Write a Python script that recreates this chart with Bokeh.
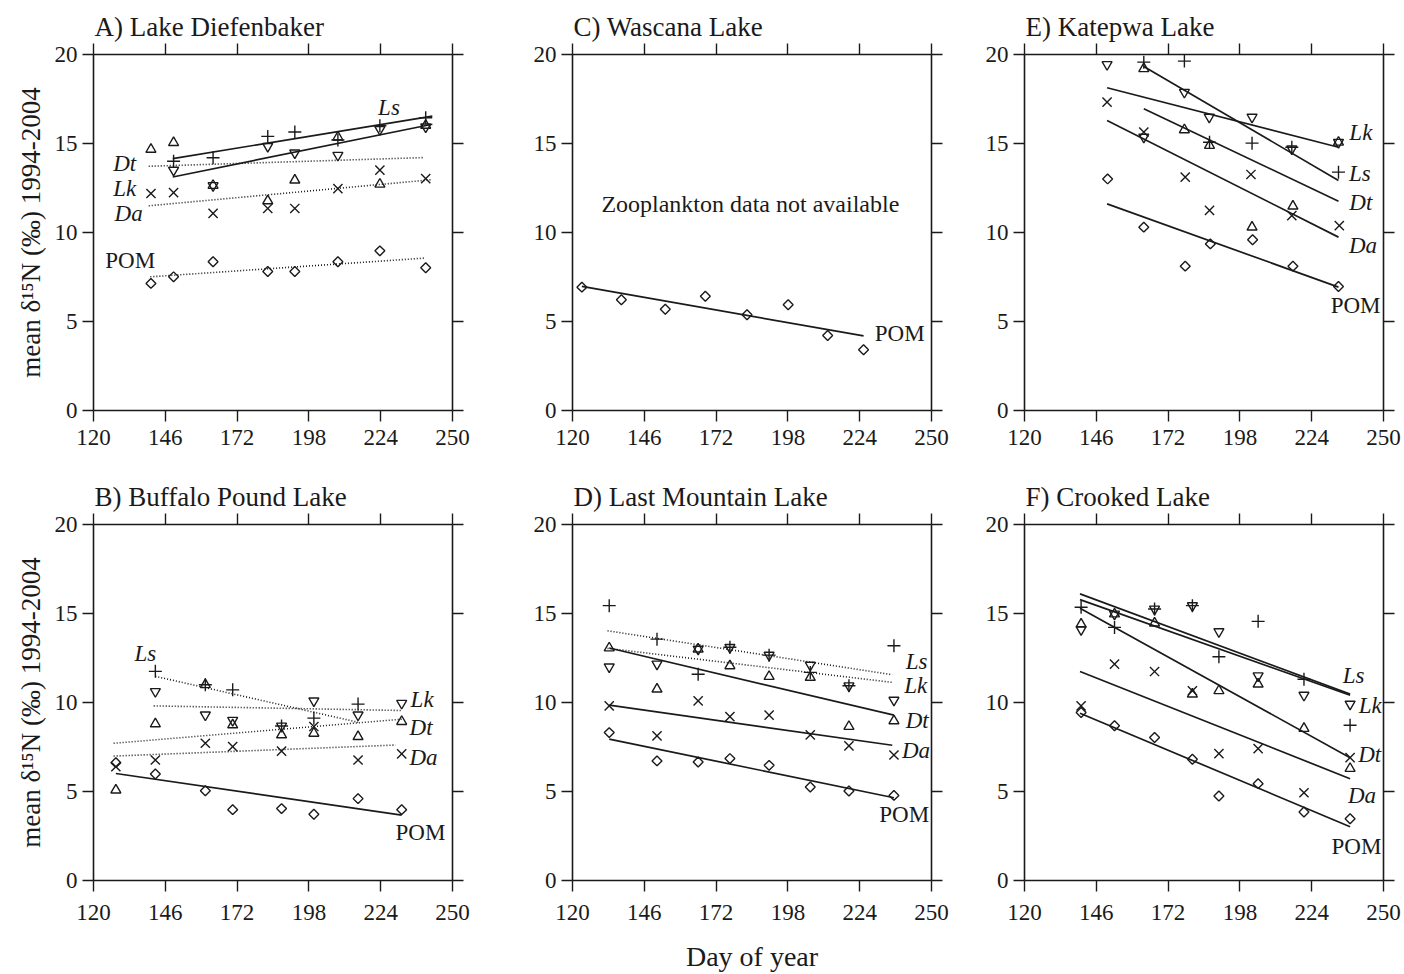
import numpy as np
from bokeh.plotting import figure
from bokeh.models import Range1d, LinearAxis, FixedTicker
from bokeh.layouts import row, column
from bokeh.embed import file_html
from bokeh.resources import INLINE
from bokeh.core.properties import value

FONT = "Liberation Serif"
INK = "#1a1a1a"

X_TICKS = [120, 146, 172, 198, 224, 250]
Y_TICKS = [0, 5, 10, 15, 20]
Y_LABEL = "mean δ¹⁵N (‰) 1994-2004"
X_LABEL = "Day of year"
TITLES = ["A) Lake Diefenbaker", "B) Buffalo Pound Lake", "C) Wascana Lake",
          "D) Last Mountain Lake", "E) Katepwa Lake", "F) Crooked Lake"]
NO_ZOO_NOTE = "Zooplankton data not available"

# ---------------- A) Lake Diefenbaker ----------------
A_DAY = [140.8, 149.0, 163.3, 183.1, 192.9, 208.5, 223.7, 240.3]
A_LS_DAY = [149.0, 163.3, 183.1, 192.9, 208.5, 223.7, 240.3]
A_LS = [14.0, 14.2, 15.4, 15.65, 15.2, 16.0, 16.45]
A_LK_DAY = [149.0, 163.3, 183.1, 192.9, 208.5, 223.7, 240.3]
A_LK = [13.5, 12.64, 14.84, 14.47, 14.34, 15.79, 15.93]
A_DT = [14.67, 15.05, 12.64, 11.78, 12.94, 15.36, 12.71, 16.02]
A_DA = [12.19, 12.24, 11.07, 11.35, 11.35, 12.47, 13.50, 13.03]
A_POM = [7.14, 7.51, 8.36, 7.81, 7.81, 8.36, 8.97, 8.02]
A_LS_FIT_DAY = [148.7, 242.7]
A_LS_FIT = [14.15, 16.54]
A_LK_FIT_DAY = [148.7, 242.7]
A_LK_FIT = [13.12, 16.08]
A_DT_FIT_DAY = [140.0, 239.7]
A_DT_FIT = [13.72, 14.21]
A_DA_FIT_DAY = [140.0, 242.7]
A_DA_FIT = [11.50, 12.97]
A_POM_FIT_DAY = [140.6, 239.7]
A_POM_FIT = [7.51, 8.56]

# ---------------- B) Buffalo Pound Lake ----------------
B_DAY = [128.1, 142.4, 160.5, 170.4, 188.1, 199.8, 215.8, 231.6]
B_LS_DAY = [142.4, 160.5, 170.4, 188.1, 199.8, 215.8]
B_LS = [11.75, 11.0, 10.71, 8.68, 9.12, 9.91]
B_LK_DAY = [142.4, 160.5, 170.4, 188.1, 199.8, 215.8, 231.6]
B_LK = [10.62, 9.30, 9.0, 8.68, 10.09, 9.30, 9.96]
B_DT = [5.08, 8.80, 11.0, 8.74, 8.18, 8.27, 8.08, 8.93]
B_DA = [6.39, 6.77, 7.71, 7.52, 7.27, 8.65, 6.77, 7.11]
B_POM = [6.62, 5.98, 5.04, 3.98, 4.04, 3.72, 4.60, 3.98]
B_LS_FIT_DAY = [142.4, 215.8]
B_LS_FIT = [11.47, 8.89]
B_LK_FIT_DAY = [141.8, 231.6]
B_LK_FIT = [9.81, 9.55]
B_DT_FIT_DAY = [127.3, 231.6]
B_DT_FIT = [7.71, 9.06]
B_DA_FIT_DAY = [127.3, 229.4]
B_DA_FIT = [6.99, 7.61]
B_POM_FIT_DAY = [128.1, 231.6]
B_POM_FIT = [6.01, 3.67]

# ---------------- C) Wascana Lake ----------------
C_DAY = [123.4, 137.7, 153.6, 168.1, 183.2, 198.1, 212.4, 225.4]
C_POM = [6.93, 6.22, 5.69, 6.42, 5.38, 5.94, 4.21, 3.41]
C_POM_FIT_DAY = [123.4, 225.4]
C_POM_FIT = [6.97, 4.19]

# ---------------- D) Last Mountain Lake ----------------
D_DAY = [133.3, 150.6, 165.5, 177.0, 191.2, 206.1, 220.1, 236.4]
D_LS = [15.44, 13.56, 11.59, 13.10, 12.66, 11.69, 10.94, 13.19]
D_LK = [12.0, 12.16, 13.0, 13.10, 12.66, 12.10, 10.94, 10.13]
D_DT = [13.06, 10.75, 13.0, 12.06, 11.46, 11.41, 8.65, 8.97]
D_DA = [9.81, 8.12, 10.09, 9.21, 9.29, 8.18, 7.56, 7.05]
D_POM = [8.31, 6.72, 6.66, 6.85, 6.47, 5.25, 5.03, 4.78]
D_LS_FIT_DAY = [132.7, 235.8]
D_LS_FIT = [14.03, 11.56]
D_LK_FIT_DAY = [132.7, 235.8]
D_LK_FIT = [13.04, 11.13]
D_DT_FIT_DAY = [133.3, 236.4]
D_DT_FIT = [13.06, 9.29]
D_DA_FIT_DAY = [133.3, 235.8]
D_DA_FIT = [9.85, 7.60]
D_POM_FIT_DAY = [133.3, 236.4]
D_POM_FIT = [7.94, 4.65]

# ---------------- E) Katepwa Lake ----------------
E_LK_DAY = [149.9, 163.2, 177.9, 186.9, 202.4, 216.8, 233.7]
E_LK = [19.44, 15.36, 17.88, 16.48, 16.48, 14.70, 15.07]
E_LS_DAY = [163.2, 177.9, 187.0, 202.4, 216.8, 233.7]
E_LS = [19.57, 19.63, 15.07, 15.02, 14.79, 13.39]
E_DT_DAY = [163.2, 177.9, 187.0, 202.4, 217.2, 233.7]
E_DT = [19.2, 15.77, 14.89, 10.30, 11.48, 15.07]
E_DA_DAY = [149.9, 163.2, 178.2, 187.0, 202.0, 216.8, 234.0]
E_DA = [17.32, 15.64, 13.11, 11.24, 13.26, 10.95, 10.39]
E_POM_DAY = [150.1, 163.2, 178.2, 187.3, 202.6, 217.2, 233.7]
E_POM = [13.01, 10.30, 8.11, 9.36, 9.59, 8.11, 6.97]
E_LK_FIT_DAY = [149.9, 233.7]
E_LK_FIT = [18.13, 14.79]
E_LS_FIT_DAY = [163.2, 233.7]
E_LS_FIT = [19.33, 12.92]
E_DT_FIT_DAY = [163.2, 233.7]
E_DT_FIT = [16.95, 11.76]
E_DA_FIT_DAY = [149.9, 233.7]
E_DA_FIT = [16.29, 9.74]
E_POM_FIT_DAY = [149.9, 233.7]
E_POM_FIT = [11.61, 6.93]

# ---------------- F) Crooked Lake ----------------
F_DAY = [140.5, 152.6, 167.1, 180.8, 190.4, 204.6, 221.2, 237.9]
F_LS = [15.35, 14.22, 15.25, 15.44, 12.57, 14.56, 11.31, 8.72]
F_LK = [14.1, 14.97, 15.25, 15.44, 13.98, 11.5, 10.41, 9.91]
F_DT = [14.4, 14.97, 14.46, 10.47, 10.66, 11.03, 8.54, 6.29]
F_DA = [9.81, 12.16, 11.74, 10.66, 7.13, 7.41, 4.93, 6.90]
F_POM = [9.44, 8.69, 8.03, 6.81, 4.75, 5.44, 3.85, 3.47]
F_FIT_DAY = [140.1, 237.9]
F_LS_FIT = [16.10, 10.47]
F_LK_FIT = [15.78, 10.41]
F_DT_FIT = [15.29, 6.90]
F_DA_FIT = [11.74, 5.72]
F_POM_FIT = [9.40, 3.02]

# ---------------- styling ----------------
MARKER = {
    "Ls": dict(marker="cross", size=13, angle=0.0),
    "Lk": dict(marker="inverted_triangle", size=10, angle=0.0),
    "Dt": dict(marker="triangle", size=10, angle=0.0),
    "Da": dict(marker="x", size=13, angle=0.0),
    "POM": dict(marker="square", size=7, angle=np.pi / 4),
}
FRAME_W, FRAME_H = 359, 356


def style_axis(ax, show_labels, standoff=4):
    ax.axis_line_color = INK
    ax.axis_line_width = 1.6
    ax.major_tick_line_color = INK
    ax.major_tick_line_width = 1.4
    ax.major_tick_out = 11
    ax.major_tick_in = 0
    ax.minor_tick_line_color = None
    ax.major_label_text_font = FONT
    if show_labels:
        ax.major_label_text_color = INK
        ax.major_label_text_font_size = "23px"
        ax.major_label_standoff = standoff
    else:
        ax.major_label_text_color = None
        ax.major_label_text_font_size = "0px"
        ax.major_label_standoff = 0


def make_panel(title, bl, br, bt, bb, x_standoff, y_label=None, x_label=None):
    p = figure(width=bl + FRAME_W + br, height=bt + FRAME_H + bb,
               x_range=Range1d(120, 250), y_range=Range1d(0, 20),
               min_border_left=bl, min_border_right=br,
               min_border_top=bt, min_border_bottom=bb,
               output_backend="svg", toolbar_location=None, title=title)
    p.grid.visible = False
    p.outline_line_color = None
    p.background_fill_color = "white"
    p.border_fill_color = "white"
    p.title.text_font = FONT
    p.title.text_font_size = "27px"
    p.title.text_font_style = "normal"
    p.title.text_color = INK
    p.title.align = "left"
    p.title.offset = 1
    p.title.standoff = 4

    bottom = p.below[0]
    left = p.left[0]
    bottom.ticker = FixedTicker(ticks=X_TICKS)
    left.ticker = FixedTicker(ticks=Y_TICKS)
    style_axis(bottom, True, x_standoff)
    style_axis(left, True, 5)

    if y_label:
        left.axis_label = y_label
        left.axis_label_text_font = FONT
        left.axis_label_text_font_size = "27px"
        left.axis_label_text_font_style = "normal"
        left.axis_label_text_color = INK
        left.axis_label_standoff = 6
    if x_label:
        bottom.axis_label = x_label
        bottom.axis_label_text_font = FONT
        bottom.axis_label_text_font_size = "28px"
        bottom.axis_label_text_font_style = "normal"
        bottom.axis_label_text_color = INK
        bottom.axis_label_standoff = 18

    top = LinearAxis(ticker=FixedTicker(ticks=X_TICKS))
    right = LinearAxis(ticker=FixedTicker(ticks=Y_TICKS))
    style_axis(top, False)
    style_axis(right, False)
    p.add_layout(top, "above")
    p.add_layout(right, "right")
    return p


def add_series(p, key, days, vals, fit_days=None, fit_vals=None, dotted=False):
    if fit_days is not None:
        if dotted:
            p.line(fit_days, fit_vals, line_color=INK, line_width=1.6, line_dash="1 2")
        else:
            p.line(fit_days, fit_vals, line_color=INK, line_width=1.7)
    st = MARKER[key]
    p.scatter(days, vals, marker=st["marker"], size=st["size"], angle=st["angle"],
              fill_color=None, line_color=INK, line_width=1.4)


def add_labels(p, items):
    for txt, x, y, italic in items:
        p.text(x=[x], y=[y], text=[txt], text_font=value(FONT),
               text_font_size="23px", text_font_style="italic" if italic else "normal",
               text_color=INK, text_align="center", text_baseline="middle")


# layout borders (px)
TOP_T, TOP_B = 54, 60
BOT_T, BOT_B = 54, 94
C1L, C1R = 93, 59
C2L, C2R = 61, 45
C3L, C3R = 48, 20

# A
pA = make_panel(TITLES[0], C1L, C1R, TOP_T, TOP_B, 8, y_label=Y_LABEL)
add_series(pA, "POM", A_DAY, A_POM, A_POM_FIT_DAY, A_POM_FIT, dotted=True)
add_series(pA, "Da", A_DAY, A_DA, A_DA_FIT_DAY, A_DA_FIT, dotted=True)
add_series(pA, "Dt", A_DAY, A_DT, A_DT_FIT_DAY, A_DT_FIT, dotted=True)
add_series(pA, "Lk", A_LK_DAY, A_LK, A_LK_FIT_DAY, A_LK_FIT)
add_series(pA, "Ls", A_LS_DAY, A_LS, A_LS_FIT_DAY, A_LS_FIT)
add_labels(pA, [("Ls", 227.0, 17.0, True), ("Dt", 131.3, 13.9, True),
                ("Lk", 131.3, 12.5, True), ("Da", 132.7, 11.05, True),
                ("POM", 133.3, 8.4, False)])

# C
pC = make_panel(TITLES[2], C2L, C2R, TOP_T, TOP_B, 8)
add_series(pC, "POM", C_DAY, C_POM, C_POM_FIT_DAY, C_POM_FIT)
add_labels(pC, [("POM", 238.5, 4.34, False)])
pC.text(x=[184.4], y=[11.6], text=[NO_ZOO_NOTE], text_font=value(FONT),
        text_font_size="24px", text_color=INK, text_align="center", text_baseline="middle")

# E
pE = make_panel(TITLES[4], C3L, C3R, TOP_T, TOP_B, 8)
add_series(pE, "POM", E_POM_DAY, E_POM, E_POM_FIT_DAY, E_POM_FIT)
add_series(pE, "Da", E_DA_DAY, E_DA, E_DA_FIT_DAY, E_DA_FIT)
add_series(pE, "Dt", E_DT_DAY, E_DT, E_DT_FIT_DAY, E_DT_FIT)
add_series(pE, "Ls", E_LS_DAY, E_LS, E_LS_FIT_DAY, E_LS_FIT)
add_series(pE, "Lk", E_LK_DAY, E_LK, E_LK_FIT_DAY, E_LK_FIT)
add_labels(pE, [("Lk", 241.8, 15.64, True), ("Ls", 241.4, 13.3, True),
                ("Dt", 241.8, 11.7, True), ("Da", 242.6, 9.27, True),
                ("POM", 239.9, 5.9, False)])

# B
pB = make_panel(TITLES[1], C1L, C1R, BOT_T, BOT_B, 13, y_label=Y_LABEL)
add_series(pB, "POM", B_DAY, B_POM, B_POM_FIT_DAY, B_POM_FIT)
add_series(pB, "Da", B_DAY, B_DA, B_DA_FIT_DAY, B_DA_FIT, dotted=True)
add_series(pB, "Dt", B_DAY, B_DT, B_DT_FIT_DAY, B_DT_FIT, dotted=True)
add_series(pB, "Lk", B_LK_DAY, B_LK, B_LK_FIT_DAY, B_LK_FIT, dotted=True)
add_series(pB, "Ls", B_LS_DAY, B_LS, B_LS_FIT_DAY, B_LS_FIT, dotted=True)
add_labels(pB, [("Ls", 138.8, 12.75, True), ("Lk", 239.0, 10.15, True),
                ("Dt", 238.6, 8.61, True), ("Da", 239.5, 6.92, True),
                ("POM", 238.4, 2.67, False)])

# D
pD = make_panel(TITLES[3], C2L, C2R, BOT_T, BOT_B, 13, x_label=X_LABEL)
add_series(pD, "POM", D_DAY, D_POM, D_POM_FIT_DAY, D_POM_FIT)
add_series(pD, "Da", D_DAY, D_DA, D_DA_FIT_DAY, D_DA_FIT)
add_series(pD, "Dt", D_DAY, D_DT, D_DT_FIT_DAY, D_DT_FIT)
add_series(pD, "Lk", D_DAY, D_LK, D_LK_FIT_DAY, D_LK_FIT, dotted=True)
add_series(pD, "Ls", D_DAY, D_LS, D_LS_FIT_DAY, D_LS_FIT, dotted=True)
add_labels(pD, [("Ls", 244.6, 12.29, True), ("Lk", 244.3, 10.94, True),
                ("Dt", 244.8, 8.97, True), ("Da", 244.4, 7.32, True),
                ("POM", 240.1, 3.72, False)])

# F
pF = make_panel(TITLES[5], C3L, C3R, BOT_T, BOT_B, 13)
add_series(pF, "POM", F_DAY, F_POM, F_FIT_DAY, F_POM_FIT)
add_series(pF, "Da", F_DAY, F_DA, F_FIT_DAY, F_DA_FIT)
add_series(pF, "Dt", F_DAY, F_DT, F_FIT_DAY, F_DT_FIT)
add_series(pF, "Lk", F_DAY, F_LK, F_FIT_DAY, F_LK_FIT)
add_series(pF, "Ls", F_DAY, F_LS, F_FIT_DAY, F_LS_FIT)
add_labels(pF, [("Ls", 239.2, 11.5, True), ("Lk", 245.2, 9.81, True),
                ("Dt", 245.0, 7.09, True), ("Da", 242.2, 4.78, True),
                ("POM", 240.2, 1.93, False)])

layout = column(row(pA, pC, pE, spacing=0), row(pB, pD, pF, spacing=0), spacing=0)

with open("out.html", "w") as f:
    f.write(file_html(layout, INLINE, title="delta15N by day of year"))
